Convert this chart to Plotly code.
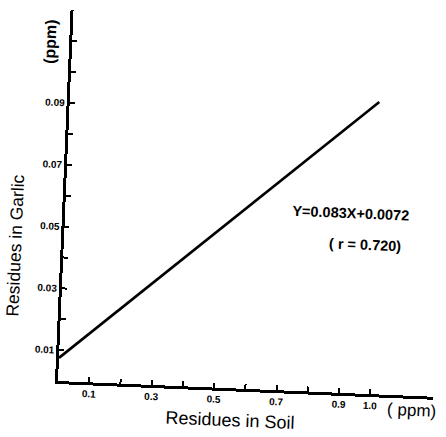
import plotly.graph_objects as go

# Regression line as drawn in the reference (end points)
soil_x = [0.0, 0.99]
garlic_y = [0.0075, 0.0945]

x_tickvals = [0.1, 0.2, 0.3, 0.4, 0.5, 0.6, 0.7, 0.8, 0.9, 1.0]
x_ticktext = ["0.1", "", "0.3", "", "0.5", "", "0.7", "", "0.9", "1.0"]
y_tickvals = [0.01, 0.02, 0.03, 0.04, 0.05, 0.06, 0.07, 0.08, 0.09, 0.10, 0.11]
y_ticktext = ["0.01", "", "0.03", "", "0.05", "", "0.07", "", "0.09", "", ""]

equation_text = "Y=0.083X+0.0072"
r_text = "( r = 0.720)"

FONT = "Liberation Sans"

fig = go.Figure()
fig.add_trace(go.Scatter(
    x=soil_x, y=garlic_y, mode="lines",
    line=dict(color="black", width=2.6), showlegend=False, hoverinfo="skip",
))

fig.update_layout(
    width=446, height=437,
    margin=dict(l=58, r=13, t=10, b=56),
    paper_bgcolor="white", plot_bgcolor="white",
    font=dict(family=FONT, color="black"),
    xaxis=dict(
        range=[0, 1.2], showgrid=False, zeroline=False,
        showline=True, linecolor="black", linewidth=3,
        tickmode="array", tickvals=x_tickvals, ticktext=x_ticktext,
        ticks="inside", ticklen=5, tickwidth=1.5, tickcolor="black",
        tickfont=dict(family=FONT, size=10, color="black", weight="bold"),
    ),
    yaxis=dict(
        range=[0, 0.12], showgrid=False, zeroline=False,
        showline=True, linecolor="black", linewidth=3,
        tickmode="array", tickvals=y_tickvals, ticktext=y_ticktext,
        ticks="inside", ticklen=5, tickwidth=1.5, tickcolor="black",
        tickfont=dict(family=FONT, size=10, color="black", weight="bold"),
    ),
    annotations=[
        dict(text="Residues in Garlic", xref="paper", yref="paper",
             x=0, y=0.36, xshift=-48, textangle=-90, showarrow=False,
             xanchor="center", yanchor="middle",
             font=dict(size=17.5, family=FONT)),
        dict(text="(ppm)", xref="paper", yref="y", x=0, y=0.1095,
             xshift=-22, textangle=-90, showarrow=False,
             xanchor="center", yanchor="middle",
             font=dict(size=16, family=FONT, weight="bold")),
        dict(text="Residues in Soil", xref="x", yref="paper", x=0.555, y=0,
             yshift=-32, showarrow=False, xanchor="center", yanchor="middle",
             font=dict(size=18, family=FONT)),
        dict(text="( ppm)", xref="x", yref="paper", x=1.133, y=0,
             yshift=-14, showarrow=False, xanchor="center", yanchor="middle",
             font=dict(size=17, family=FONT)),
        dict(text=equation_text, xref="x", yref="y", x=0.912, y=0.0582,
             showarrow=False, xanchor="center", yanchor="middle",
             font=dict(size=14.5, family=FONT, weight="bold")),
        dict(text=r_text, xref="x", yref="y", x=0.964, y=0.0482,
             showarrow=False, xanchor="center", yanchor="middle",
             font=dict(size=14.5, family=FONT, weight="bold")),
    ],
)

# The scanned reference is slightly rotated clockwise about the axis corner.
post = (
    "document.body.style.margin='0';"
    "var d=document.getElementById('{plot_id}');"
    "d.style.transformOrigin='57px 381px';"
    "d.style.transform='rotate(2.4deg)';"
)
fig.write_html("out.html", post_script=post)
